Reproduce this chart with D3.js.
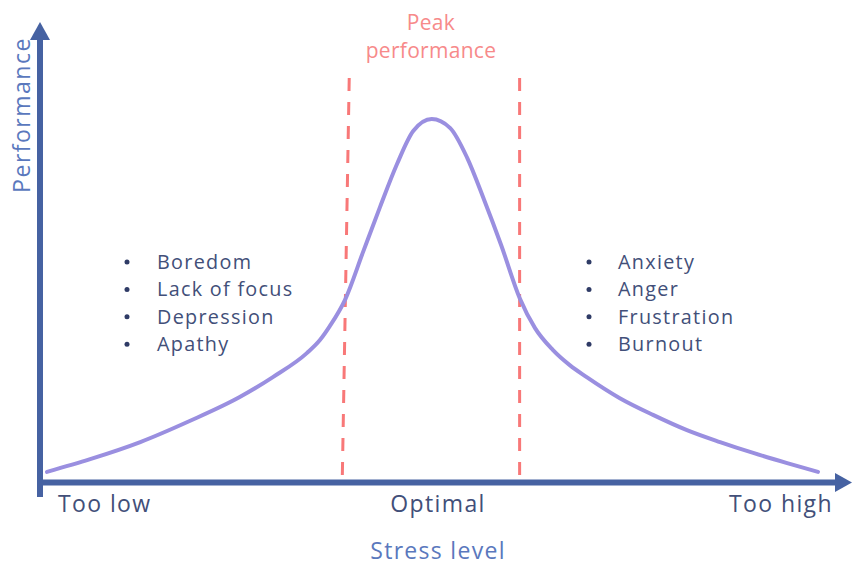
<!DOCTYPE html>
<html>
<head>
<meta charset="utf-8">
<script src="https://cdn.jsdelivr.net/npm/d3@7"></script>
<style>
  html, body { margin: 0; padding: 0; background: #fff; }
  svg { display: block; }
  text { font-family: "Open Sans", Lato, sans-serif; }
</style>
</head>
<body>
<svg id="chart" width="852" height="566"></svg>
<script>
// ---- data ----
const stress = [0, 5.6, 12.1, 18.5, 25.0, 29.3, 33.7, 35.4, 36.7, 38.7, 41.0, 43.2, 45.4, 47.5, 49.9,
                52.3, 54.5, 56.7, 58.9, 61.3, 63.3, 65.6, 67.8, 70.0, 74.3, 78.6, 83.0, 87.3, 91.6, 96.0, 100];
const performance = [2.8, 6.3, 11.0, 16.8, 23.4, 28.9, 35.5, 39.1, 43.0, 50.4, 63.4, 75.8, 87.6, 96.7, 100,
                     97.5, 89.3, 77.7, 65.3, 50.7, 42.4, 36.4, 32.2, 28.9, 23.1, 18.5, 14.3, 11.0, 8.0, 5.2, 2.8];
const peakZoneTop = [39.2, 61.3];      // stress at top of dashed lines
const peakZoneBottom = [38.3, 61.3];   // stress at bottom of dashed lines
const peakZonePerf = [111.3, 1.1];     // performance extent of dashed lines
const lowSymptoms = ["Boredom", "Lack of focus", "Depression", "Apathy"];
const highSymptoms = ["Anxiety", "Anger", "Frustration", "Burnout"];
const xTickLabels = ["Too low", "Optimal", "Too high"];
const peakLabel = ["Peak", "performance"];
const xTitle = "Stress level";
const yTitle = "Performance";

// ---- drawing ----
const svg = d3.select("#chart");
const x = d3.scaleLinear().domain([0, 100]).range([47, 818]);
const y = d3.scaleLinear().domain([0, 100]).range([482, 119]);

const axisColor = "#4662a2";
const curveColor = "#9a8fe0";
const dashColor = "#f87878";
const textDark = "#424f79";
const titleColor = "#5a78bd";

// axes
svg.append("line").attr("x1", 40).attr("x2", 40).attr("y1", 497).attr("y2", 36)
  .attr("stroke", axisColor).attr("stroke-width", 6);
svg.append("path").attr("d", "M40,22 L50,40 L30,40 Z").attr("fill", axisColor);
svg.append("line").attr("x1", 37).attr("x2", 838).attr("y1", 482.5).attr("y2", 482.5)
  .attr("stroke", axisColor).attr("stroke-width", 6);
svg.append("path").attr("d", "M852,482.5 L835,473 L835,492 Z").attr("fill", axisColor);

// dashed peak zone lines
[0, 1].forEach(i => {
  svg.append("line")
    .attr("x1", x(peakZoneTop[i])).attr("y1", y(peakZonePerf[0]))
    .attr("x2", x(peakZoneBottom[i])).attr("y2", y(peakZonePerf[1]))
    .attr("stroke", dashColor).attr("stroke-width", 3)
    .attr("stroke-dasharray", "13,11");
});

// curve
const pts = stress.map((s, i) => [s, performance[i]]);
const line = d3.line().x(d => x(d[0])).y(d => y(d[1])).curve(d3.curveMonotoneX);
svg.append("path").attr("d", line(pts)).attr("fill", "none")
  .attr("stroke", curveColor).attr("stroke-width", 4).attr("stroke-linecap", "round");

// symptom lists
function list(items, bx, tx) {
  items.forEach((t, i) => {
    const base = 269 + i * 27.4;
    svg.append("circle").attr("cx", bx).attr("cy", base - 7).attr("r", 2.5).attr("fill", "#2f3b66");
    svg.append("text").attr("x", tx).attr("y", base).attr("font-size", 19.8)
      .attr("letter-spacing", 1.3).attr("fill", textDark).text(t);
  });
}
list(lowSymptoms, 127, 157);
list(highSymptoms, 589, 618);

// peak label
peakLabel.forEach((t, i) => {
  svg.append("text").attr("x", 431).attr("y", 30 + i * 27.5).attr("text-anchor", "middle")
    .attr("font-size", 21).attr("letter-spacing", 0.3).attr("fill", "#f78a8a").text(t);
});

// x tick labels
const tickAttrs = sel => sel.attr("y", 512).attr("font-size", 23).attr("letter-spacing", 1.4).attr("fill", textDark);
svg.append("text").call(tickAttrs).attr("x", 58).text(xTickLabels[0]);
svg.append("text").call(tickAttrs).attr("x", 438).attr("text-anchor", "middle").text(xTickLabels[1]);
svg.append("text").call(tickAttrs).attr("x", 833).attr("text-anchor", "end").text(xTickLabels[2]);

// titles
svg.append("text").attr("x", 438).attr("y", 559).attr("text-anchor", "middle")
  .attr("font-size", 23).attr("letter-spacing", 1.3).attr("fill", titleColor).text(xTitle);
svg.append("text").attr("transform", "translate(30,115) rotate(-90)").attr("text-anchor", "middle")
  .attr("font-size", 23).attr("letter-spacing", 1.5).attr("fill", titleColor).text(yTitle);
</script>
</body>
</html>
